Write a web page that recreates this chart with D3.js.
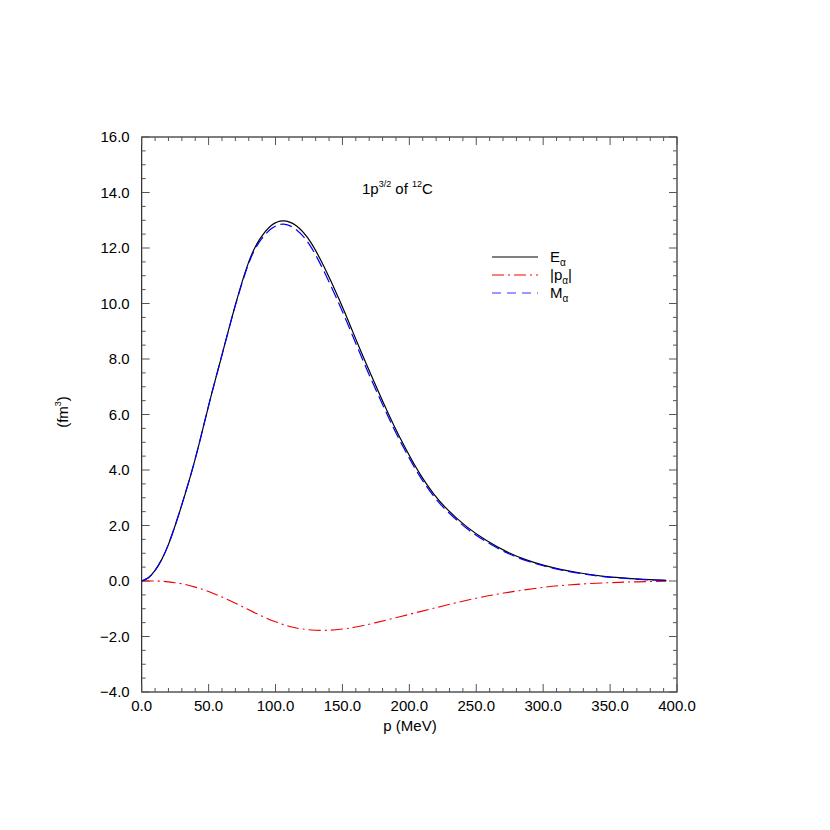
<!DOCTYPE html>
<html><head><meta charset="utf-8">
<script src="https://cdn.jsdelivr.net/npm/d3@7"></script>
<style>body{margin:0;background:#fff}text{font-family:"Liberation Sans",Arial,sans-serif}</style>
</head><body><svg id="c" width="830" height="830"></svg>
<script>
const pE = [0,5,10,15,20,25,30,38,45,52,60,70,80,88,97,106,115,125,136,148,158,168,178,188,198,208,218,228,243,258,273,288,300,313,330,345,360,375,392];
const vE = [0,0.12,0.38,0.78,1.32,2.0,2.75,4.05,5.35,6.7,8.15,9.95,11.5,12.3,12.82,12.98,12.82,12.3,11.35,10.1,8.95,7.8,6.7,5.65,4.7,3.85,3.15,2.6,1.95,1.45,1.05,0.75,0.57,0.42,0.27,0.17,0.11,0.06,0.02];
const vM = [0,0.12,0.38,0.78,1.32,2.0,2.75,4.05,5.35,6.7,8.15,9.93,11.45,12.22,12.7,12.86,12.68,12.15,11.18,9.93,8.79,7.65,6.57,5.53,4.6,3.76,3.07,2.53,1.89,1.4,1.01,0.72,0.55,0.4,0.26,0.16,0.1,0.05,0.02];
const pP = [0,10,20,30,40,50,60,70,80,90,100,110,120,135,150,160,175,200,225,250,275,300,325,350,370,392];
const vP = [0,0,-0.03,-0.1,-0.22,-0.38,-0.58,-0.8,-1.04,-1.27,-1.47,-1.63,-1.73,-1.78,-1.73,-1.66,-1.5,-1.2,-0.9,-0.62,-0.4,-0.23,-0.12,-0.06,-0.03,-0.01];
const xTicks = [0,50,100,150,200,250,300,350,400];
const yTicks = [-4,-2,0,2,4,6,8,10,12,14,16];
const legendLabels = ["E","|p","M"];

const svg = d3.select("#c");
const L=141.7,R=677,T=137,B=692;
const x = d3.scaleLinear().domain([0,400]).range([L,R]);
const y = d3.scaleLinear().domain([-4,16]).range([B,T]);
svg.append("rect").attr("x",L).attr("y",T).attr("width",R-L).attr("height",B-T).attr("fill","none").attr("stroke","#000").attr("stroke-width",1);
const tc="#555";
d3.range(0,401,10).forEach(v=>{const maj=v%50===0,len=maj?8:4;
  svg.append("line").attr("x1",x(v)).attr("x2",x(v)).attr("y1",B).attr("y2",B-len).attr("stroke",tc);
  svg.append("line").attr("x1",x(v)).attr("x2",x(v)).attr("y1",T).attr("y2",T+len).attr("stroke",tc);});
d3.range(-4,16.01,0.5).forEach(v=>{const maj=Math.abs(v%2)<1e-6,len=maj?8:4;
  svg.append("line").attr("y1",y(v)).attr("y2",y(v)).attr("x1",L).attr("x2",L+len).attr("stroke",tc);
  svg.append("line").attr("y1",y(v)).attr("y2",y(v)).attr("x1",R).attr("x2",R-len).attr("stroke",tc);});
xTicks.forEach(v=>svg.append("text").attr("x",x(v)).attr("y",B+19).attr("text-anchor","middle").attr("font-size",15).text(v.toFixed(1)));
yTicks.forEach(v=>svg.append("text").attr("x",L-12).attr("y",y(v)+5).attr("text-anchor","end").attr("font-size",15).text((v<0?"\u2212":"")+Math.abs(v).toFixed(1)));
svg.append("text").attr("x",410).attr("y",731).attr("text-anchor","middle").attr("font-size",15).text("p (MeV)");
const yl=svg.append("text").attr("transform","translate(68,412) rotate(-90)").attr("text-anchor","middle").attr("font-size",15);
yl.append("tspan").text("(fm");yl.append("tspan").attr("font-size",9).attr("dy",-7).text("3");yl.append("tspan").attr("dy",7).text(")");
const tt=svg.append("text").attr("x",362).attr("y",194).attr("font-size",15);
tt.append("tspan").text("1p");tt.append("tspan").attr("font-size",9).attr("dy",-7).text("3/2");
tt.append("tspan").attr("dy",7).text(" of ");tt.append("tspan").attr("font-size",9).attr("dy",-7).text("12");
tt.append("tspan").attr("dy",7).text("C");

const line=(px,py)=>d3.line().x((d,i)=>x(px[i])).y(d=>y(d)).curve(d3.curveNatural)(py);
svg.append("path").attr("d",line(pP,vP)).attr("fill","none").attr("stroke","#e00").attr("stroke-width",1.1).attr("stroke-dasharray","12,4,2,4");
svg.append("path").attr("d",line(pE,vE)).attr("fill","none").attr("stroke","#000").attr("stroke-width",1.2);
svg.append("path").attr("d",line(pE,vM)).attr("fill","none").attr("stroke","#00f").attr("stroke-width",1.2).attr("stroke-dasharray","12,5");

const styles=[["#000",null],["#e00","12,4,2,4"],["#33f","9,6"]];
legendLabels.forEach((lab,i)=>{const yy=257+i*18;
  svg.append("line").attr("x1",492).attr("x2",538).attr("y1",yy).attr("y2",yy).attr("stroke",styles[i][0]).attr("stroke-dasharray",styles[i][1]);
  const t=svg.append("text").attr("x",550).attr("y",yy+5).attr("font-size",15);
  t.append("tspan").text(lab);t.append("tspan").attr("font-size",10).attr("dy",4).text("\u03b1");
  if(i===1)t.append("tspan").attr("dy",-4).text("|");
});
</script></body></html>
